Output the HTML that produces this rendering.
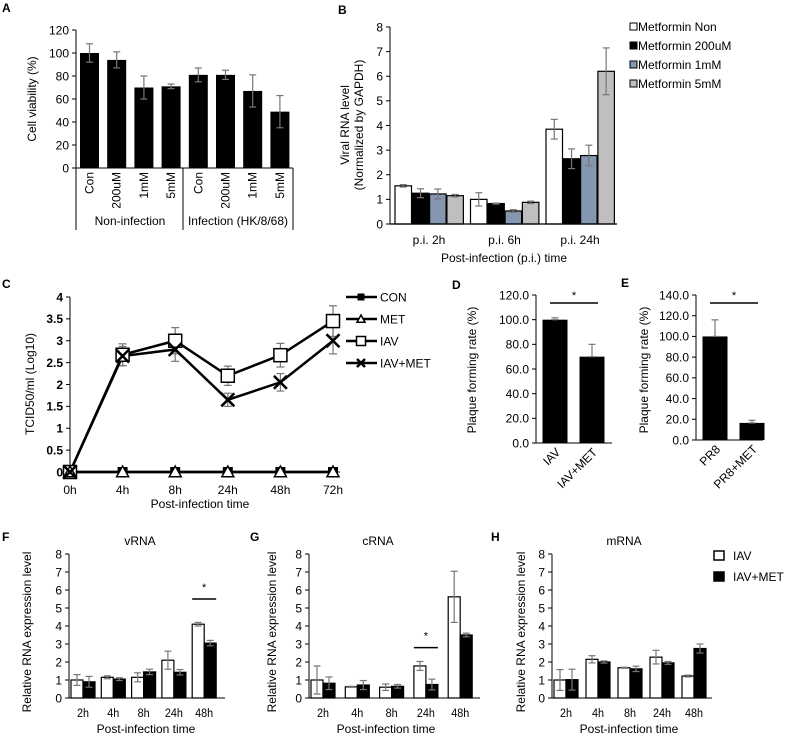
<!DOCTYPE html>
<html><head><meta charset="utf-8"><style>
html,body{margin:0;padding:0;background:#fff;}
svg{display:block;font-family:"Liberation Sans",Arial,sans-serif;}
</style></head><body>
<svg id="fig" width="789" height="737" viewBox="0 0 789 737"></svg>
<script>
// ---------- data ----------
const aCats = ["Con","200uM","1mM","5mM","Con","200uM","1mM","5mM"];
const aVals = [100,94,70,71,81,81,67,49];
const aErr  = [8,7,10,2,6,4,14,14];
const aTicks = [0,20,40,60,80,100,120];

const bGroups = ["p.i. 2h","p.i. 6h","p.i. 24h"];
const bSeries = ["Metformin Non","Metformin 200uM","Metformin 1mM","Metformin 5mM"];
const bNon  = [1.55,1.0,3.85];
const b200  = [1.25,0.83,2.65];
const b1mM  = [1.22,0.53,2.78];
const b5mM  = [1.15,0.88,6.2];
const bNonErr = [0.05,0.27,0.4];
const b200Err = [0.18,0.02,0.4];
const b1mMErr = [0.2,0.05,0.42];
const b5mMErr = [0.05,0.05,0.95];
const bTicks = [0,1,2,3,4,5,6,7,8];

const cCats = ["0h","4h","8h","24h","48h","72h"];
const cCon = [0,0,0,0,0,0];
const cMet = [0,0,0,0,0,0];
const cIav = [0,2.68,3.0,2.2,2.67,3.45];
const cIavMet = [0,2.65,2.8,1.65,2.05,3.0];
const cIavErr = [0,0.25,0.3,0.22,0.27,0.35];
const cIavMetErr = [0,0.22,0.27,0.15,0.2,0.3];
const cTicks = [0,0.5,1,1.5,2,2.5,3,3.5,4];

const dCats = ["IAV","IAV+MET"];
const dVals = [100,70];
const dErr = [1.5,10];
const dTicks = [0,20,40,60,80,100,120];
const eCats = ["PR8","PR8+MET"];
const eVals = [100,16.5];
const eErr = [16,2.5];
const eTicks = [0,20,40,60,80,100,120,140];

const rnaCats = ["2h","4h","8h","24h","48h"];
const fIav = [1.0,1.15,1.15,2.1,4.1];
const fIavErr = [0.3,0.08,0.25,0.5,0.1];
const fMet = [0.9,1.05,1.45,1.43,3.05];
const fMetErr = [0.3,0.08,0.15,0.15,0.15];
const gIav = [1.0,0.62,0.6,1.78,5.62];
const gIavErr = [0.78,0.03,0.18,0.25,1.42];
const gMet = [0.82,0.72,0.65,0.75,3.5];
const gMetErr = [0.35,0.25,0.1,0.3,0.1];
const hIav = [1.0,2.15,1.68,2.27,1.22];
const hIavErr = [0.58,0.2,0.03,0.38,0.05];
const hMet = [1.02,2.0,1.62,1.95,2.75];
const hMetErr = [0.58,0.06,0.15,0.08,0.25];
const rnaTicks = [0,1,2,3,4,5,6,7,8];

// ---------- helpers ----------
const NS = "http://www.w3.org/2000/svg";
const svg = document.getElementById("fig");
function mk(tag, attrs, parent, text){
  const e = document.createElementNS(NS, tag);
  for (const k in attrs) e.setAttribute(k, attrs[k]);
  if (text !== undefined) e.textContent = text;
  (parent || svg).appendChild(e);
  return e;
}
function grp(name){
  const g = document.createElementNS(NS,"g");
  
  
  svg.appendChild(g);
  return g;
}
function linScale(d0,d1,r0,r1){return v => r0 + (v-d0)/(d1-d0)*(r1-r0);}
function errBar(g,x,y0,y1,w,col){
  mk("line",{x1:x,x2:x,y1:y0,y2:y1,stroke:col,"stroke-width":1.2},g);
  mk("line",{x1:x-w,x2:x+w,y1:y0,y2:y0,stroke:col,"stroke-width":1.2},g);
  mk("line",{x1:x-w,x2:x+w,y1:y1,y2:y1,stroke:col,"stroke-width":1.2},g);
}
function yAxis(g,x,y,ticks,fmt,fs,extra){
  mk("line",{x1:x,x2:x,y1:y(ticks[ticks.length-1]),y2:y(ticks[0]),stroke:"#000","stroke-width":1},g);
  ticks.forEach(t=>{
    mk("line",{x1:x-4,x2:x,y1:y(t),y2:y(t),stroke:"#000","stroke-width":1},g);
    const tx = mk("text",{x:x-7,y:y(t)+fs*0.36,"font-size":fs,"text-anchor":"end",...(extra||{})},g,fmt(t));
    
    
  });
}
function label(txt,x,y,fs,opts){
  const t = mk("text",Object.assign({x:x,y:y,"font-size":fs},opts||{}),svg,txt);
  return t;
}
function panelLetter(l,x,y){
  const t = mk("text",{x:x,y:y,"font-size":12,"font-weight":"bold"},svg,l);
  
  
}

// ---------- Panel A ----------
(function(){
  const g = grp("panel-a-chart");
  const y = linScale(0,120,168,30);
  const x0 = 76, step = 27.2, bw = 19;
  aVals.forEach((v,i)=>{
    const cx = x0 + 13.5 + i*step;
    const r = mk("rect",{x:cx-bw/2,y:y(v),width:bw,height:y(0)-y(v),fill:"#000"},g);
    
    
    errBar(g,cx,y(v+aErr[i]),y(v-aErr[i]),3.5,"#777");
    const t = mk("text",{x:cx+4,y:172,"font-size":12,"text-anchor":"end",transform:`rotate(-90 ${cx+4} 172)`},g,aCats[i]);
    
    
  });
  yAxis(g,x0,y,aTicks,t=>String(t),12);
  mk("line",{x1:x0,x2:293,y1:168,y2:168,stroke:"#000"},g);
  [76,183,293].forEach(xx=>mk("line",{x1:xx,x2:xx,y1:168,y2:230,stroke:"#000"},g));
  const t1=label("Non-infection",130,225,12,{"text-anchor":"middle"});  
  const t2=label("Infection (HK/8/68)",238,225,12,{"text-anchor":"middle"});  
  const yt=label("Cell viability (%)",36,99,12,{"text-anchor":"middle",transform:"rotate(-90 36 99)"});
   
  panelLetter("A",2,12);
})();

// ---------- Panel B ----------
(function(){
  const g = grp("panel-b-chart");
  const y = linScale(0,8,224,27);
  const x0 = 390, gstep = 75.5, bw = 16.5;
  const series = [bNon,b200,b1mM,b5mM];
  const errs = [bNonErr,b200Err,b1mMErr,b5mMErr];
  const fills = ["#fff","#000","#8496b0","#bfbfbf"];
  bGroups.forEach((gn,gi)=>{
    series.forEach((s,si)=>{
      const bx = x0 + 5 + gi*gstep + si*17.3;
      const v = s[gi];
      const r = mk("rect",{x:bx,y:y(v),width:bw,height:y(0)-y(v),fill:fills[si],stroke:"#000","stroke-width":1.2},g);
      
      
      errBar(g,bx+bw/2,y(v+errs[si][gi]),y(v-errs[si][gi]),3.5,"#777");
    });
    const t = mk("text",{x:x0+5+gi*gstep+34,y:244,"font-size":12,"text-anchor":"middle"},g,gn);
    
    
  });
  yAxis(g,x0,y,bTicks,t=>String(t),12);
  mk("line",{x1:x0,x2:617,y1:224,y2:224,stroke:"#000","stroke-width":1.2},g);
  const xt=label("Post-infection (p.i.) time",504,262,12,{"text-anchor":"middle"});  
  const y1=label("Viral RNA level",349,125,12,{"text-anchor":"middle",transform:"rotate(-90 349 125)"});  
  const y2=label("(Normalized by GAPDH)",363,125,12,{"text-anchor":"middle",transform:"rotate(-90 363 125)"});  
  bSeries.forEach((s,i)=>{
    const le = mk("g",{},g);
    
    
    const ly = 28 + i*19;
    mk("rect",{x:630,y:ly-5,width:7,height:7,fill:fills[i],stroke:"#000","stroke-width":1},le);
    mk("text",{x:638,y:ly+3,"font-size":12},le,s);
  });
  panelLetter("B",338,14);
})();

// ---------- Panel C ----------
(function(){
  const g = grp("panel-c-chart");
  const y = linScale(0,4,472,297);
  const x = i => 70 + i*52.6;
  yAxis(g,70,y,cTicks,t=>String(t),12,{"font-weight":"bold"});
  mk("line",{x1:70,x2:340,y1:472,y2:472,stroke:"#000"},g);
  cCats.forEach((c,i)=>{
    const t = mk("text",{x:x(i),y:494,"font-size":12,"text-anchor":"middle"},g,c);
    
    
  });
  function line(vals,name){
    const p = mk("polyline",{points:vals.map((v,i)=>x(i)+","+y(v)).join(" "),fill:"none",stroke:"#000","stroke-width":2.5},g);
    
    
  }
  cIav.forEach((v,i)=>{ if(cIavErr[i]) errBar(g,x(i),y(v+cIavErr[i]),y(v-cIavErr[i]),4,"#777"); });
  cIavMet.forEach((v,i)=>{ if(cIavMetErr[i]) errBar(g,x(i),y(v+cIavMetErr[i]),y(v-cIavMetErr[i]),4,"#777"); });
  line(cCon,"line-con"); line(cMet,"line-met"); line(cIav,"line-iav"); line(cIavMet,"line-iav-met");
  function sq(cx,cy,s,p){mk("rect",{x:cx-s,y:cy-s,width:2*s,height:2*s,fill:"#fff",stroke:"#000","stroke-width":1.5},p);}
  function cross(cx,cy,s,p){mk("path",{d:`M${cx-s},${cy-s}L${cx+s},${cy+s}M${cx-s},${cy+s}L${cx+s},${cy-s}`,stroke:"#000","stroke-width":2.5},p);}
  function tri(cx,cy,s,p){mk("path",{d:`M${cx},${cy-s}L${cx+s},${cy+s*0.8}L${cx-s},${cy+s*0.8}Z`,fill:"#fff",stroke:"#000","stroke-width":1.5},p);}
  function fsq(cx,cy,s,p){mk("rect",{x:cx-s,y:cy-s,width:2*s,height:2*s,fill:"#000"},p);}
  cCon.forEach((v,i)=>fsq(x(i),y(v),5,g));
  cIav.forEach((v,i)=>sq(x(i),y(v),6.5,g));
  cMet.forEach((v,i)=>tri(x(i),y(v),6,g));
  cIavMet.forEach((v,i)=>cross(x(i),y(v),6.5,g));
  const leg=[["CON",fsq,3.5],["MET",tri,4],["IAV",sq,4.5],["IAV+MET",cross,4]];
  leg.forEach((l,i)=>{
    const le = mk("g",{},g);
    
    
    const ly = 297 + i*22;
    mk("line",{x1:346,x2:377,y1:ly,y2:ly,stroke:"#000","stroke-width":2.5},le);
    l[1](361,ly,l[2],le);
    mk("text",{x:380,y:ly+4.5,"font-size":12},le,l[0]);
  });
  const xt=label("Post-infection time",200,508,12,{"text-anchor":"middle"});  
  const yt=label("TCID50/ml (Log10)",34,384,12,{"text-anchor":"middle",transform:"rotate(-90 34 384)"});  
  panelLetter("C",2,288);
})();

// ---------- Panels D & E ----------
function plaque(name,cats,vals,errs,ticks,x0,top,bot,xEnd,lx,tx){
  const g = grp(name);
  const max = ticks[ticks.length-1];
  const y = linScale(0,max,bot,top);
  yAxis(g,x0,y,ticks,t=>t.toFixed(1),12);
  mk("line",{x1:x0,x2:xEnd,y1:bot,y2:bot,stroke:"#000"},g);
  const bw = 25, step = 37;
  vals.forEach((v,i)=>{
    const cx = x0 + 19 + i*step;
    const r = mk("rect",{x:cx-bw/2,y:y(v),width:bw,height:bot-y(v),fill:"#000"},g);
    
    
    errBar(g,cx,y(v+errs[i]),y(v),3.5,"#777");
    const t = mk("text",{x:cx+6,y:bot+10,"font-size":12,"text-anchor":"end",transform:`rotate(-45 ${cx+6} ${bot+10})`},g,cats[i]);
    
    
  });
  mk("line",{x1:x0+14,x2:x0+62,y1:303,y2:303,stroke:"#000","stroke-width":1.5},g);
  mk("text",{x:x0+38,y:299,"font-size":11,"text-anchor":"middle"},g,"*");
  const yt=mk("text",{x:lx,y:370,"font-size":12,"text-anchor":"middle",transform:`rotate(-90 ${lx} 370)`},g,"Plaque forming rate (%)");
   
}
plaque("panel-d-chart",dCats,dVals,dErr,dTicks,536,295,443,612,476);
plaque("panel-e-chart",eCats,eVals,eErr,eTicks,696,295,440,763,648);
panelLetter("D",452,289);
panelLetter("E",621,287);

// ---------- Panels F, G, H ----------
function rna(name,title,iav,iavErr,met,metErr,x0,step,xEnd,titleX,ytX,star){
  const g = grp(name);
  const y = linScale(0,8,698,554);
  yAxis(g,x0,y,rnaTicks,t=>String(t),12);
  mk("line",{x1:x0,x2:xEnd,y1:698,y2:698,stroke:"#000"},g);
  const bw = 12;
  rnaCats.forEach((c,i)=>{
    const bx = x0 + 2 + i*step;
    const r1 = mk("rect",{x:bx,y:y(iav[i]),width:bw,height:698-y(iav[i]),fill:"#fff",stroke:"#000","stroke-width":1.2},g);
    
    
    const r2 = mk("rect",{x:bx+bw,y:y(met[i]),width:bw,height:698-y(met[i]),fill:"#000",stroke:"#000","stroke-width":1.2},g);
    
    
    errBar(g,bx+bw/2,y(iav[i]+iavErr[i]),y(iav[i]-iavErr[i]),3.5,"#777");
    errBar(g,bx+bw*1.5,y(met[i]+metErr[i]),y(met[i]-metErr[i]),3.5,"#777");
    const t = mk("text",{x:bx+bw,y:717,"font-size":12,"text-anchor":"middle",transform:`scale(0.9,1)`},g,c);
    t.setAttribute('x',(bx+bw)/0.9);
    
    
    if (star && star[0]===i){
      mk("line",{x1:bx,x2:bx+2*bw,y1:y(star[1]),y2:y(star[1]),stroke:"#000","stroke-width":1.5},g);
      mk("text",{x:bx+bw,y:y(star[1])-8,"font-size":11,"text-anchor":"middle"},g,"*");
    }
  });
  const tt = mk("text",{x:titleX,y:545,"font-size":12,"text-anchor":"middle"},g,title);
   
  const xt = mk("text",{x:x0+77,y:733,"font-size":12,"text-anchor":"middle"},g,"Post-infection time");
   
  const yt = mk("text",{x:ytX,y:632,"font-size":12,"text-anchor":"middle",transform:`rotate(-90 ${ytX} ${632})`},g,"Relative RNA expression  level");
   
}
rna("panel-f-chart","vRNA",fIav,fIavErr,fMet,fMetErr,69,30.3,225,140,31,[4,5.5]);
rna("panel-g-chart","cRNA",gIav,gIavErr,gMet,gMetErr,309,34.3,480,378,276,[3,2.8]);
rna("panel-h-chart","mRNA",hIav,hIavErr,hMet,hMetErr,552,32,712,624,525,null);
panelLetter("F",2,541);
panelLetter("G",250,541);
panelLetter("H",491,541);
(function(){
  const g = grp("legend-fgh");
  [["IAV","#fff"],["IAV+MET","#000"]].forEach((l,i)=>{
    const le = mk("g",{},g);
    
    
    const ly = 556 + i*21;
    mk("rect",{x:714,y:ly-5,width:10,height:9,fill:l[1],stroke:"#000","stroke-width":1.5},le);
    mk("text",{x:733,y:ly+4,"font-size":12},le,l[0]);
  });
})();
</script>
</body></html>
